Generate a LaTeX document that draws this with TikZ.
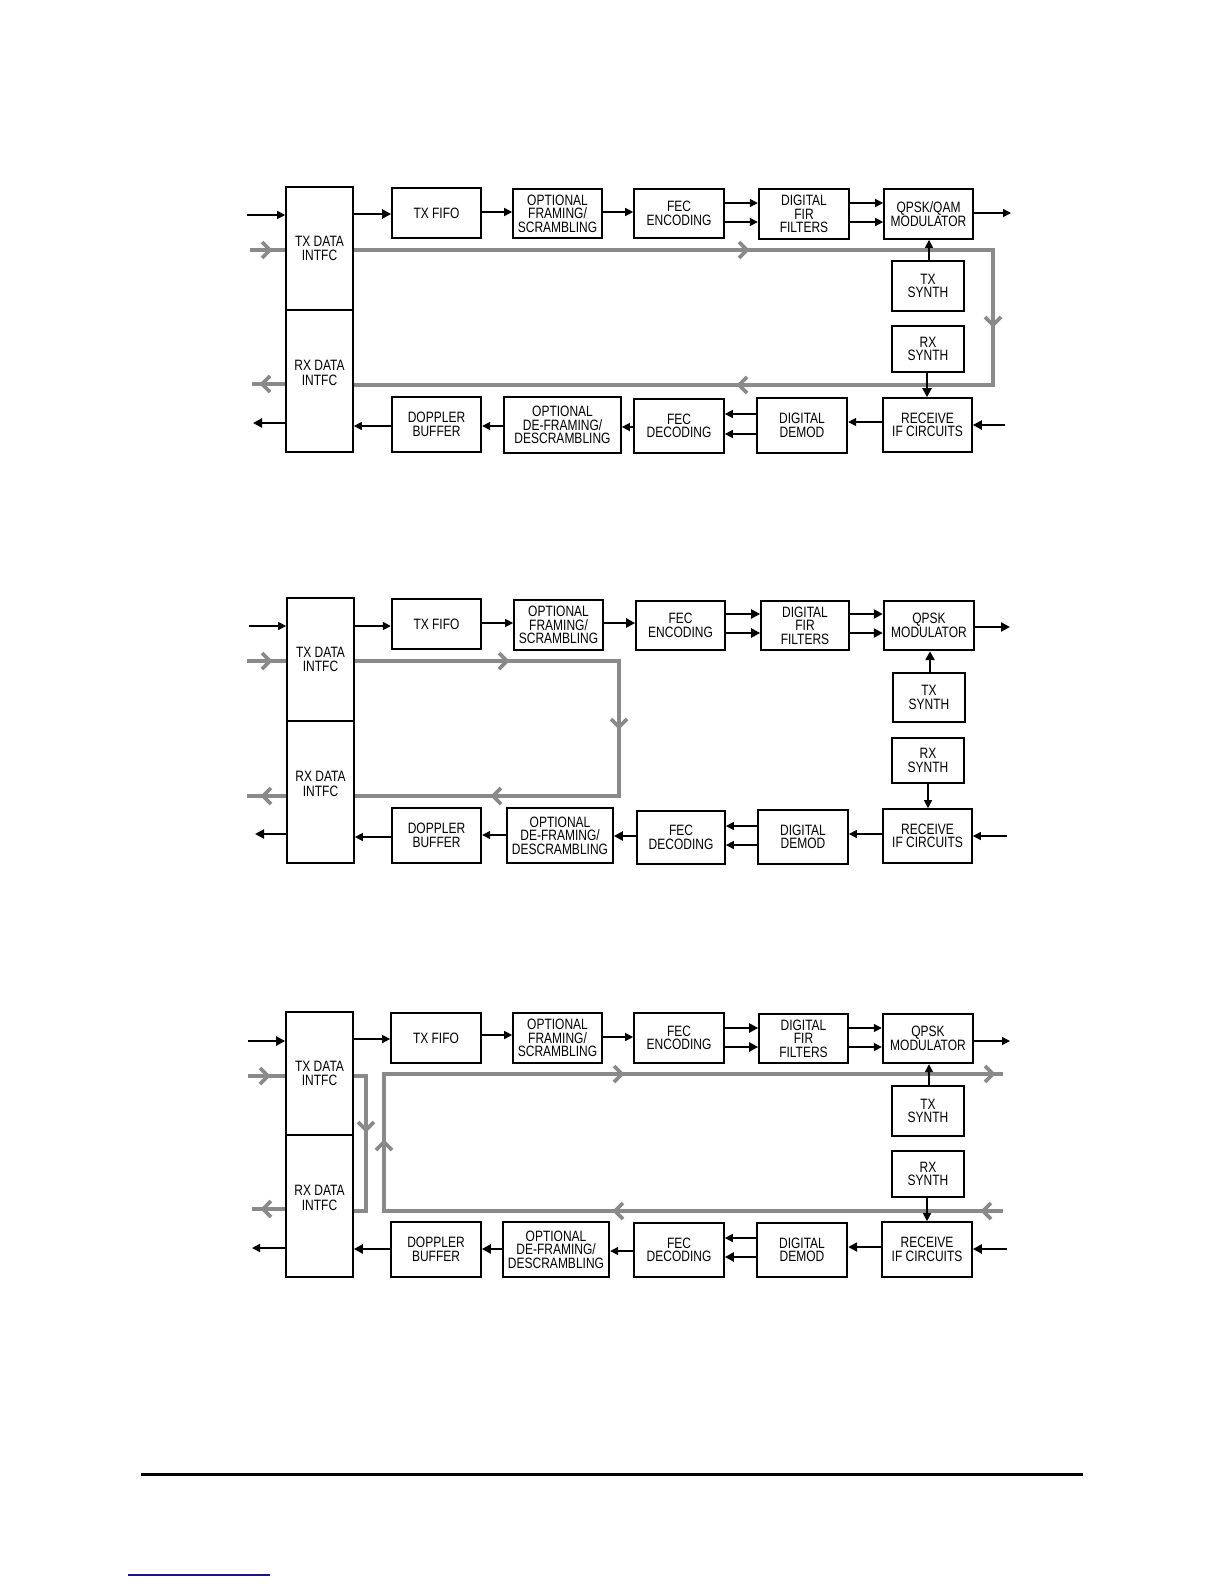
\documentclass[tikz,border=0pt]{standalone}
\usepackage{fontspec}
\setmainfont{Liberation Sans}[FakeStretch=0.8]
\usetikzlibrary{arrows.meta}
\definecolor{grayln}{RGB}{138,138,138}
\definecolor{linkblue}{RGB}{20,20,140}
\newcommand\blkfont{\fontsize{7.5}{6.7}\selectfont}
\newcommand\rxlbl{\raisebox{3pt}[\height][\depth]{\begin{tabular}{@{}c@{}}RX DATA\\INTFC\end{tabular}}}
\tikzset{
 corners/.style args={#1,#2,#3,#4}{at={({(#1+#3)/2},{(#2+#4)/2})},
   minimum width={(#3-#1)*0.5pt}, minimum height={(#4-#2)*0.5pt}},
 blk/.style={draw, line width=0.85pt, inner sep=0pt, align=center, font=\blkfont, corners={#1}},
 blkt/.style={blk={#1}, line width=1.2pt},
 arr/.style={draw, line width=0.7pt, -{Triangle[length=4pt,width=4pt]}},
 arrt/.style={draw, line width=1.4pt, -{Triangle[length=4.5pt,width=4.5pt]}},
 gline/.style={draw=grayln, line width=1.9pt, line join=miter},
 chev/.pic={\draw[gline] (-8,-8) -- (0,0) -- (-8,8);},
}
\begin{document}
\begin{tikzpicture}[x=0.5pt,y=-0.5pt]
\fill[white] (0,0) rectangle (1224,1584);
\useasboundingbox (0,0) rectangle (1224,1584);

% ================= Diagram 1 =================
\node[blk={286,187,353,310}] (txd1) {TX DATA\\INTFC};
\node[blk={286,310,353,452}] (rxd1) {\rxlbl};
\node[blk={392,188,481,238}] (txfifo1) {TX FIFO};
\node[blk={513,189,602,238}] (optf1) {OPTIONAL\\FRAMING/\\SCRAMBLING};
\node[blk={634,189,724,238}] (fece1) {FEC\\ENCODING};
\node[blkt={759,189,849,239}] (fir1) {DIGITAL\\FIR\\FILTERS};
\node[blk={884,189,973,239}] (mod1) {QPSK/QAM\\MODULATOR};
\node[blk={892,261,964,311}] (txs1) {TX\\SYNTH};
\node[blk={892,326,964,372}] (rxs1) {RX\\SYNTH};
\node[blk={883,398,972,452}] (rcv1) {RECEIVE\\IF CIRCUITS};
\node[blkt={757,398,847,453}] (dem1) {DIGITAL\\DEMOD};
\node[blk={634,399,724,453}] (fecd1) {FEC\\DECODING};
\node[blk={504,397,621,453}] (optd1) {OPTIONAL\\DE-FRAMING/\\DESCRAMBLING};
\node[blkt={392,397,481,452}] (dop1) {DOPPLER\\BUFFER};

\coordinate (g1i) at (250,250);
\coordinate (g1tr) at (993,250);
\coordinate (g1br) at (993,385);
\coordinate (g1o) at (252,384);
\draw[gline] (g1i) -- (txd1.west |- g1i);
\draw[gline] (txd1.east |- g1tr) -- (g1tr) -- (g1br) -- (rxd1.east |- g1br);
\draw[gline] (rxd1.west |- g1o) -- (g1o);
\pic at (270,250) {chev};
\pic at (747,250) {chev};
\pic[rotate=-90] at (993,325) {chev};
\pic[rotate=180] at (739,385) {chev};
\pic[rotate=180] at (262,384) {chev};

\coordinate (i1a) at (247,215);
\coordinate (o1a) at (1011,213);
\coordinate (i1b) at (1005,425);
\coordinate (o1b) at (253,423);
\draw[arr] (i1a) -- (txd1.west |- i1a);
\draw[arrt] (txd1.east |- 0,214) -- (txfifo1.west |- 0,214);
\draw[arr] (txfifo1.east |- 0,212) -- (optf1.west |- 0,212);
\draw[arr] (optf1.east |- 0,212) -- (fece1.west |- 0,212);
\draw[arr] (fece1.east |- 0,203) -- (fir1.west |- 0,203);
\draw[arr] (fece1.east |- 0,222) -- (fir1.west |- 0,222);
\draw[arr] (fir1.east |- 0,203) -- (mod1.west |- 0,203);
\draw[arr] (fir1.east |- 0,222) -- (mod1.west |- 0,222);
\draw[arr] (mod1.east |- o1a) -- (o1a);
\draw[arr] (txs1.north -| 929,0) -- (mod1.south -| 929,0);
\draw[arrt] (rxs1.south -| 927,0) -- (rcv1.north -| 927,0);
\draw[arrt] (i1b) -- (rcv1.east |- i1b);
\draw[arr] (rcv1.west |- 0,422) -- (dem1.east |- 0,422);
\draw[arr] (dem1.west |- 0,414) -- (fecd1.east |- 0,414);
\draw[arr] (dem1.west |- 0,434) -- (fecd1.east |- 0,434);
\draw[arr] (fecd1.west |- 0,427) -- (optd1.east |- 0,427);
\draw[arr] (optd1.west |- 0,426) -- (dop1.east |- 0,426);
\draw[arr] (dop1.west |- 0,426) -- (rxd1.east |- 0,426);
\draw[arrt] (rxd1.west |- o1b) -- (o1b);

% ================= Diagram 2 =================
\node[blk={287,598,354,721}] (txd2) {TX DATA\\INTFC};
\node[blk={287,721,354,863}] (rxd2) {\rxlbl};
\node[blkt={392,599,481,649}] (txfifo2) {TX FIFO};
\node[blk={514,600,603,650}] (optf2) {OPTIONAL\\FRAMING/\\SCRAMBLING};
\node[blk={636,601,725,650}] (fece2) {FEC\\ENCODING};
\node[blk={761,601,849,650}] (fir2) {DIGITAL\\FIR\\FILTERS};
\node[blkt={884,601,974,650}] (mod2) {QPSK\\MODULATOR};
\node[blkt={893,673,965,722}] (txs2) {TX\\SYNTH};
\node[blkt={892,738,964,783}] (rxs2) {RX\\SYNTH};
\node[blk={883,809,972,863}] (rcv2) {RECEIVE\\IF CIRCUITS};
\node[blk={758,810,848,864}] (dem2) {DIGITAL\\DEMOD};
\node[blk={637,811,725,864}] (fecd2) {FEC\\DECODING};
\node[blk={507,808,613,863}] (optd2) {OPTIONAL\\DE-FRAMING/\\DESCRAMBLING};
\node[blkt={392,808,481,863}] (dop2) {DOPPLER\\BUFFER};

\coordinate (g2i) at (247,661);
\coordinate (g2tr) at (619,661);
\coordinate (g2br) at (619,796);
\coordinate (g2o) at (247,796);
\draw[gline] (g2i) -- (txd2.west |- g2i);
\draw[gline] (txd2.east |- g2tr) -- (g2tr) -- (g2br) -- (rxd2.east |- g2br);
\draw[gline] (rxd2.west |- g2o) -- (g2o);
\pic at (270,661) {chev};
\pic at (507,661) {chev};
\pic[rotate=-90] at (619,727) {chev};
\pic[rotate=180] at (493,796) {chev};
\pic[rotate=180] at (263,796) {chev};

\coordinate (i2a) at (249,626);
\coordinate (o2a) at (1010,627);
\coordinate (i2b) at (1007,836);
\coordinate (o2b) at (255,834);
\draw[arr] (i2a) -- (txd2.west |- i2a);
\draw[arr] (txd2.east |- 0,626) -- (txfifo2.west |- 0,626);
\draw[arr] (txfifo2.east |- 0,623) -- (optf2.west |- 0,623);
\draw[arrt] (optf2.east |- 0,623) -- (fece2.west |- 0,623);
\draw[arrt] (fece2.east |- 0,614) -- (fir2.west |- 0,614);
\draw[arrt] (fece2.east |- 0,633) -- (fir2.west |- 0,633);
\draw[arrt] (fir2.east |- 0,614) -- (mod2.west |- 0,614);
\draw[arrt] (fir2.east |- 0,633) -- (mod2.west |- 0,633);
\draw[arrt] (mod2.east |- o2a) -- (o2a);
\draw[arrt] (txs2.north -| 930,0) -- (mod2.south -| 930,0);
\draw[arr] (rxs2.south -| 928,0) -- (rcv2.north -| 928,0);
\draw[arr] (i2b) -- (rcv2.east |- i2b);
\draw[arr] (rcv2.west |- 0,834) -- (dem2.east |- 0,834);
\draw[arr] (dem2.west |- 0,826) -- (fecd2.east |- 0,826);
\draw[arr] (dem2.west |- 0,845) -- (fecd2.east |- 0,845);
\draw[arrt] (fecd2.west |- 0,836) -- (optd2.east |- 0,836);
\draw[arr] (optd2.west |- 0,835) -- (dop2.east |- 0,835);
\draw[arr] (dop2.west |- 0,837) -- (rxd2.east |- 0,837);
\draw[arrt] (rxd2.west |- o2b) -- (o2b);

% ================= Diagram 3 =================
\node[blk={286,1012,353,1135}] (txd3) {TX DATA\\INTFC};
\node[blk={286,1135,353,1277}] (rxd3) {\rxlbl};
\node[blk={391,1013,481,1063}] (txfifo3) {TX FIFO};
\node[blk={513,1013,602,1063}] (optf3) {OPTIONAL\\FRAMING/\\SCRAMBLING};
\node[blk={634,1013,724,1063}] (fece3) {FEC\\ENCODING};
\node[blk={759,1014,848,1063}] (fir3) {DIGITAL\\FIR\\FILTERS};
\node[blkt={883,1014,973,1063}] (mod3) {QPSK\\MODULATOR};
\node[blkt={892,1086,964,1136}] (txs3) {TX\\SYNTH};
\node[blkt={892,1151,964,1197}] (rxs3) {RX\\SYNTH};
\node[blk={882,1222,972,1277}] (rcv3) {RECEIVE\\IF CIRCUITS};
\node[blkt={757,1223,847,1277}] (dem3) {DIGITAL\\DEMOD};
\node[blk={634,1223,724,1277}] (fecd3) {FEC\\DECODING};
\node[blkt={503,1222,609,1277}] (optd3) {OPTIONAL\\DE-FRAMING/\\DESCRAMBLING};
\node[blk={391,1222,481,1277}] (dop3) {DOPPLER\\BUFFER};

\coordinate (g3i) at (248,1076);
\coordinate (g3sa) at (366,1076);
\coordinate (g3sb) at (366,1211);
\coordinate (g3tl) at (384,1074);
\coordinate (g3bl) at (384,1211);
\coordinate (g3tr) at (1003,1074);
\coordinate (g3br) at (1003,1211);
\coordinate (g3o) at (252,1209);
\draw[gline] (g3i) -- (txd3.west |- g3i);
\draw[gline] (txd3.east |- g3sa) -- (g3sa) -- (g3sb) -- (rxd3.east |- g3sb);
\draw[gline] (g3br) -- (g3bl) -- (g3tl) -- (g3tr);
\draw[gline] (rxd3.west |- g3o) -- (g3o);
\pic at (268,1076) {chev};
\pic[rotate=-90] at (366,1130) {chev};
\pic[rotate=90] at (384,1142) {chev};
\pic at (622,1074) {chev};
\pic at (993,1074) {chev};
\pic[rotate=180] at (615,1211) {chev};
\pic[rotate=180] at (983,1211) {chev};
\pic[rotate=180] at (263,1209) {chev};

\coordinate (i3a) at (248,1041);
\coordinate (o3a) at (1010,1041);
\coordinate (i3b) at (1007,1249);
\coordinate (o3b) at (252,1248);
\draw[arrt] (i3a) -- (txd3.west |- i3a);
\draw[arr] (txd3.east |- 0,1039) -- (txfifo3.west |- 0,1039);
\draw[arr] (txfifo3.east |- 0,1035) -- (optf3.west |- 0,1035);
\draw[arr] (optf3.east |- 0,1037) -- (fece3.west |- 0,1037);
\draw[arrt] (fece3.east |- 0,1028) -- (fir3.west |- 0,1028);
\draw[arrt] (fece3.east |- 0,1047) -- (fir3.west |- 0,1047);
\draw[arr] (fir3.east |- 0,1028) -- (mod3.west |- 0,1028);
\draw[arr] (fir3.east |- 0,1047) -- (mod3.west |- 0,1047);
\draw[arr] (mod3.east |- o3a) -- (o3a);
\draw[arr] (txs3.north -| 929,0) -- (mod3.south -| 929,0);
\draw[arr] (rxs3.south -| 927,0) -- (rcv3.north -| 927,0);
\draw[arrt] (i3b) -- (rcv3.east |- i3b);
\draw[arrt] (rcv3.west |- 0,1247) -- (dem3.east |- 0,1247);
\draw[arr] (dem3.west |- 0,1238) -- (fecd3.east |- 0,1238);
\draw[arrt] (dem3.west |- 0,1257) -- (fecd3.east |- 0,1257);
\draw[arr] (fecd3.west |- 0,1251) -- (optd3.east |- 0,1251);
\draw[arrt] (optd3.west |- 0,1249) -- (dop3.east |- 0,1249);
\draw[arrt] (dop3.west |- 0,1249) -- (rxd3.east |- 0,1249);
\draw[arr] (rxd3.west |- o3b) -- (o3b);

% ================= footer rules =================
\coordinate (ruleL) at (141,1474);
\coordinate (ruleR) at (1083,1474);
\draw[line width=1.5pt] (ruleL) -- (ruleR);
\coordinate (linkL) at (128,1575);
\coordinate (linkR) at (270,1575);
\draw[linkblue, line width=0.6pt] (linkL) -- (linkR);
\end{tikzpicture}
\end{document}
